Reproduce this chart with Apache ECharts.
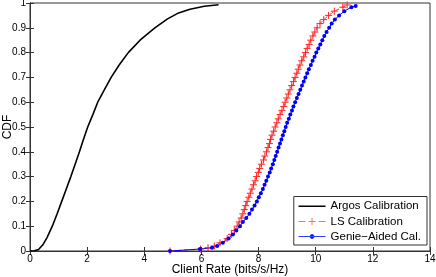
<!DOCTYPE html>
<html><head><meta charset="utf-8">
<script src="https://cdn.jsdelivr.net/npm/echarts@6/dist/echarts.min.js"></script>
<style>html,body{margin:0;padding:0;background:#fff}#c{width:436px;height:277px}</style>
</head><body><div id="c"></div>
<script>
const seriesNames = ["Argos Calibration", "LS Calibration", "Genie\u2212Aided Cal."];
const xTicks = [0, 2, 4, 6, 8, 10, 12, 14];
const yTicks = [0, 0.1, 0.2, 0.3, 0.4, 0.5, 0.6, 0.7, 0.8, 0.9, 1];
const argos = [[0,0],[0.15,0.001],[0.3,0.006],[0.45,0.025],[0.6,0.055],[0.78,0.1],[0.95,0.15],[1.11,0.2],[1.27,0.25],[1.43,0.3],[1.58,0.35],[1.73,0.4],[1.87,0.45],[2.02,0.5],[2.2,0.55],[2.37,0.6],[2.6,0.65],[2.84,0.7],[3.12,0.75],[3.44,0.8],[3.85,0.85],[4.37,0.9],[4.8,0.935],[5.2,0.96],[5.6,0.975],[6.1,0.987],[6.6,0.993]];
const lsX = [4.9,5.97,6.23,6.45,6.65,6.9,7.05,7.15,7.25,7.32,7.39,7.45,7.5,7.55,7.6,7.66,7.71,7.77,7.82,7.88,7.93,7.99,8.04,8.1,8.17,8.22,8.28,8.33,8.38,8.42,8.47,8.53,8.58,8.64,8.69,8.75,8.82,8.88,8.93,8.99,9.04,9.1,9.16,9.22,9.28,9.34,9.39,9.45,9.51,9.58,9.64,9.7,9.77,9.83,9.9,9.97,10.05,10.15,10.28,10.45,10.65,10.95,11.1];
const lsY = [0,0.008,0.013,0.02,0.033,0.05,0.067,0.083,0.1,0.117,0.133,0.15,0.167,0.183,0.2,0.217,0.233,0.25,0.267,0.283,0.3,0.317,0.333,0.35,0.367,0.383,0.4,0.417,0.433,0.45,0.467,0.483,0.5,0.517,0.533,0.55,0.567,0.583,0.6,0.617,0.633,0.65,0.667,0.683,0.7,0.717,0.733,0.75,0.767,0.783,0.8,0.817,0.833,0.85,0.867,0.883,0.9,0.917,0.933,0.95,0.967,0.983,0.992];
const genieX = [4.9,5.95,6.37,6.55,6.75,6.95,7.1,7.22,7.35,7.45,7.57,7.68,7.77,7.86,7.94,8.01,8.08,8.15,8.21,8.27,8.33,8.39,8.44,8.5,8.55,8.6,8.65,8.7,8.75,8.8,8.85,8.9,8.95,9.0,9.06,9.11,9.17,9.22,9.28,9.34,9.4,9.46,9.52,9.58,9.64,9.7,9.76,9.83,9.89,9.96,10.02,10.09,10.16,10.23,10.3,10.38,10.47,10.56,10.67,10.82,11.0,11.25,11.4];
const genieY = [0,0.008,0.013,0.02,0.033,0.05,0.067,0.083,0.1,0.117,0.133,0.15,0.167,0.183,0.2,0.217,0.233,0.25,0.267,0.283,0.3,0.317,0.333,0.35,0.367,0.383,0.4,0.417,0.433,0.45,0.467,0.483,0.5,0.517,0.533,0.55,0.567,0.583,0.6,0.617,0.633,0.65,0.667,0.683,0.7,0.717,0.733,0.75,0.767,0.783,0.8,0.817,0.833,0.85,0.867,0.883,0.9,0.917,0.933,0.95,0.967,0.983,0.988];

const ls = lsX.map((x, i) => [x, lsY[i]]);
const genie = genieX.map((x, i) => [x, genieY[i]]);

const font = 'Liberation Sans, Arial, Helvetica, sans-serif';
const axisCol = '#333';
const chart = echarts.init(document.getElementById('c'), null, {renderer: 'canvas'});
const tickStyle = {inside: true, length: 4, lineStyle: {color: axisCol}};
chart.setOption({
  animation: false,
  backgroundColor: '#fff',
  grid: {left: 30, right: 6, top: 3, bottom: 26, show: true, borderColor: axisCol, borderWidth: 1, outerBoundsMode: 'none', containLabel: false},
  legend: {
    orient: 'vertical', right: 9, bottom: 32,
    backgroundColor: '#fff', borderColor: axisCol, borderWidth: 1, borderRadius: 0,
    padding: [3, 6, 2, 4], itemGap: 2, itemWidth: 27, itemHeight: 12,
    textStyle: {fontFamily: font, fontSize: 11.5, color: '#000', lineHeight: 12},
    data: [
      {name: seriesNames[0], icon: 'path://M0,0M0,6L27,6M27,12', itemStyle: {color: 'rgba(0,0,0,0)', borderColor: '#000', borderWidth: 1.5}},
      {name: seriesNames[1], icon: 'path://M0,0M0,6L7,6M10,6L17,6M20,6L27,6M13.5,2.5L13.5,9.5M27,12', itemStyle: {color: 'rgba(0,0,0,0)', borderColor: '#ff7070', borderWidth: 1}},
      {name: seriesNames[2], icon: 'path://M0,0M0,6L27,6M11.5,6A2,2 0 1,1 15.5,6A2,2 0 1,1 11.5,6ZM27,12', itemStyle: {color: '#0000ff', borderColor: '#3040ff', borderWidth: 1}}
    ]
  },
  xAxis: [{
    type: 'value', min: 0, max: 14, interval: 2, position: 'bottom',
    name: 'Client Rate (bits/s/Hz)', nameLocation: 'middle', nameGap: 13, nameMoveOverlap: false,
    nameTextStyle: {fontFamily: font, fontSize: 12, color: '#000'},
    axisLine: {show: true, lineStyle: {color: axisCol}}, axisTick: tickStyle,
    axisLabel: {fontFamily: font, fontSize: 10, color: '#000', margin: 3, formatter: v => xTicks.includes(v) ? String(v) : ''},
    splitLine: {show: false}
  }, {
    type: 'value', min: 0, max: 14, interval: 2, position: 'top',
    axisLine: {show: true, lineStyle: {color: axisCol}}, axisTick: tickStyle,
    axisLabel: {show: false}, splitLine: {show: false}
  }],
  yAxis: [{
    type: 'value', min: 0, max: 1, interval: 0.1, position: 'left',
    name: 'CDF', nameLocation: 'middle', nameGap: 16, nameRotate: 90, nameMoveOverlap: false,
    nameTextStyle: {fontFamily: font, fontSize: 12, color: '#000'},
    axisLine: {show: true, lineStyle: {color: axisCol}}, axisTick: tickStyle,
    axisLabel: {fontFamily: font, fontSize: 10, color: '#000', margin: 4, formatter: v => { const t = yTicks.find(k => Math.abs(k - v) < 1e-9); return t === undefined ? '' : String(t); }},
    splitLine: {show: false}
  }, {
    type: 'value', min: 0, max: 1, interval: 0.1, position: 'right',
    axisLine: {show: true, lineStyle: {color: axisCol}}, axisTick: tickStyle,
    axisLabel: {show: false}, splitLine: {show: false}
  }],
  series: [{
    name: seriesNames[0], type: 'line', data: argos, symbol: 'none', smooth: false,
    lineStyle: {color: '#000', width: 1.6}, itemStyle: {color: '#000'}
  }, {
    name: seriesNames[1], type: 'line', data: ls,
    symbol: 'path://M0,5L10,5M5,0L5,10', symbolSize: 7, showAllSymbol: true,
    lineStyle: {color: '#ff3030', width: 1, type: [4, 3]},
    itemStyle: {color: 'rgba(255,0,0,0)', borderColor: '#ff2020', borderWidth: 1}
  }, {
    name: seriesNames[2], type: 'line', data: genie,
    symbol: 'circle', symbolSize: 4, showAllSymbol: true,
    lineStyle: {color: '#0000ff', width: 1},
    itemStyle: {color: '#0000ff', borderWidth: 0}
  }]
});
</script></body></html>
